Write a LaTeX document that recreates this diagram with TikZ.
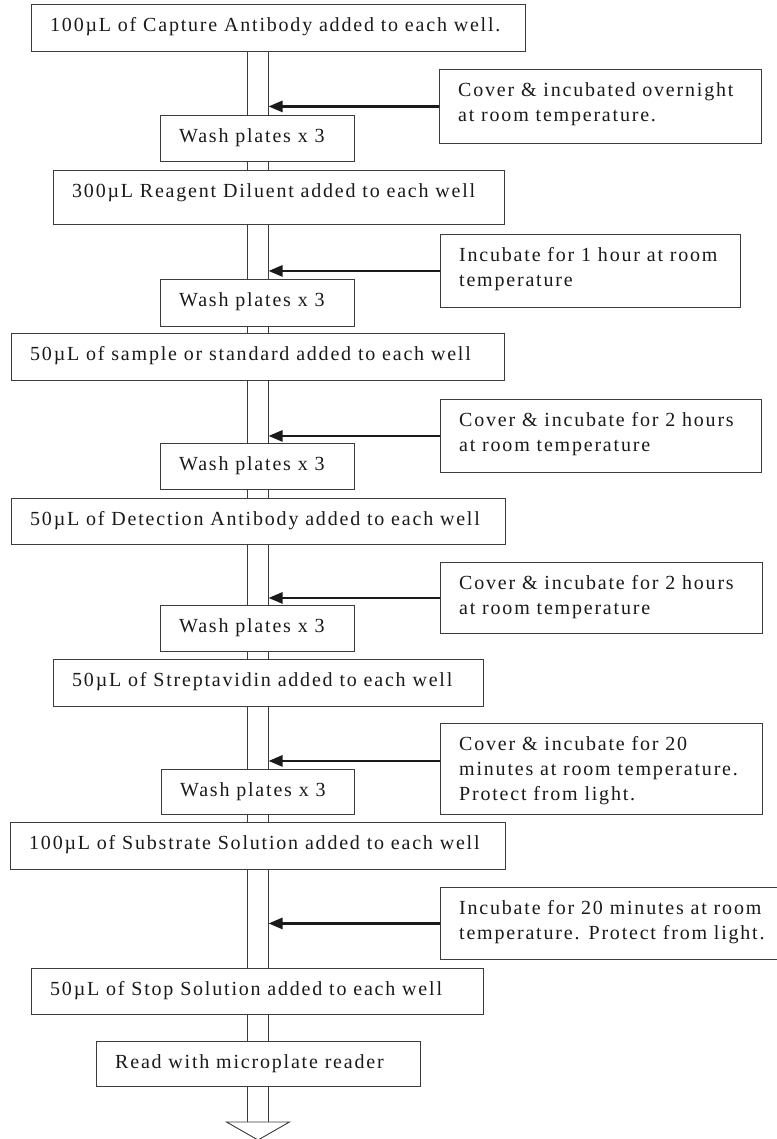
\documentclass[tikz,border=0pt]{standalone}
\usepackage{fontspec}
\setmainfont{Liberation Serif}[LetterSpace=9]
\usepackage{tikz}
\usetikzlibrary{arrows.meta, backgrounds}
\definecolor{elLine}{HTML}{3C3C3C}
\definecolor{elInk}{HTML}{1A1A1A}
\newcommand{\elfont}{\fontsize{20pt}{25pt}\selectfont}
\tikzset{
  el-step/.style={
    rectangle, draw=elLine, fill=white, line width=0.9pt,
    inner sep=0pt, anchor=north west
  },
  el-text/.style={
    anchor=north west, inner sep=0pt, align=left,
    font=\elfont, text=elInk, xshift=19pt, yshift=-13.5pt
  },
  el-rail/.style={draw=elLine, line width=0.9pt},
  el-head/.style={draw=elLine, line width=0.9pt, fill=white, line join=miter},
  el-feed/.style={-{Triangle[length=14pt, width=11pt]}, line width=2.6pt, draw=elInk},
}
\begin{document}
\begin{tikzpicture}[x=1pt, y=-1pt]
  \useasboundingbox (0,0) rectangle (776,1139);

  % main steps
  \node[el-step, minimum width=494pt, minimum height=47pt, label={[el-text]north west:100µL of Capture Antibody added to each well.}] (cap) at (31,4) {};
  \node[el-step, minimum width=194pt, minimum height=46pt, label={[el-text]north west:Wash plates x 3}] (wsh1) at (160,115) {};
  \node[el-step, minimum width=451pt, minimum height=54pt, label={[el-text]north west:300µL Reagent Diluent added to each well}] (dil) at (53,170) {};
  \node[el-step, minimum width=194pt, minimum height=47pt, label={[el-text]north west:Wash plates x 3}] (wsh2) at (160,279) {};
  \node[el-step, minimum width=493pt, minimum height=47pt, label={[el-text]north west:50µL of sample or standard added to each well}] (smp) at (11,333) {};
  \node[el-step, minimum width=194pt, minimum height=46pt, label={[el-text]north west:Wash plates x 3}] (wsh3) at (160,443) {};
  \node[el-step, minimum width=494pt, minimum height=46pt, label={[el-text]north west:50µL of Detection Antibody added to each well}] (det) at (11,498) {};
  \node[el-step, minimum width=194pt, minimum height=46pt, label={[el-text]north west:Wash plates x 3}] (wsh4) at (160,605) {};
  \node[el-step, minimum width=430pt, minimum height=47pt, label={[el-text]north west:50µL of Streptavidin added to each well}] (stv) at (53,659) {};
  \node[el-step, minimum width=193pt, minimum height=45pt, label={[el-text]north west:Wash plates x 3}] (wsh5) at (161,769) {};
  \node[el-step, minimum width=495pt, minimum height=47pt, label={[el-text]north west:100µL of Substrate Solution added to each well}] (sub) at (10,822) {};
  \node[el-step, minimum width=452pt, minimum height=46pt, label={[el-text]north west:50µL of Stop Solution added to each well}] (stp) at (31,968) {};
  \node[el-step, minimum width=324pt, minimum height=45pt, label={[el-text]north west:Read with microplate reader}] (rd) at (96,1041) {};

  % incubation notes
  \node[el-step, minimum width=322pt, minimum height=74pt, label={[el-text]north west:{Cover \& incubated overnight\\at room temperature.}}] (ovn) at (439,69) {};
  \node[el-step, minimum width=300pt, minimum height=73pt, label={[el-text]north west:{Incubate for 1 hour at room\\temperature}}] (ohr) at (440,234) {};
  \node[el-step, minimum width=321pt, minimum height=73pt, label={[el-text]north west:{Cover \& incubate for 2 hours\\at room temperature}}] (thr1) at (440,399) {};
  \node[el-step, minimum width=322pt, minimum height=71pt, label={[el-text]north west:{Cover \& incubate for 2 hours\\at room temperature}}] (thr2) at (440,562) {};
  \node[el-step, minimum width=322pt, minimum height=91pt, label={[el-text]north west:{Cover \& incubate for 20\\minutes at room temperature.\\Protect from light.}}] (tw1) at (440,723) {};
  \node[el-step, minimum width=338pt, minimum height=72pt, label={[el-text]north west:{Incubate for 20 minutes at room\\temperature. Protect from light.}}] (tw2) at (440,887) {};

  \coordinate (tip) at (258,1122);
  \coordinate (railL) at (247.5,0);
  \coordinate (railR) at (268.5,0);
  \coordinate (tw1in) at ([yshift=8pt]tw1.west);

  \draw[el-feed] (ovn.west) -- (ovn.west -| railR);
  \draw[el-feed] (ohr.west) -- (ohr.west -| railR);
  \draw[el-feed] (thr1.west) -- (thr1.west -| railR);
  \draw[el-feed] (thr2.west) -- (thr2.west -| railR);
  \draw[el-feed] (tw1in) -- (tw1in -| railR);
  \draw[el-feed] (tw2.west) -- (tw2.west -| railR);

  \begin{scope}[on background layer]
    \fill[white] (0,0) rectangle (776,1139);
    \draw[el-rail] (railL |- cap.south) -- (railL |- tip);
    \draw[el-rail] (railR |- cap.south) -- (railR |- tip);
    \draw[el-head] ([xshift=-31.5pt]tip) -- ([xshift=31.5pt]tip) -- ([yshift=-18pt]tip) -- cycle;
  \end{scope}
\end{tikzpicture}
\end{document}
